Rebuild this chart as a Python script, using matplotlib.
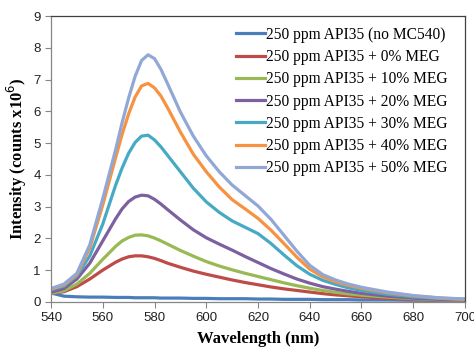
import numpy as np
import matplotlib
matplotlib.use("Agg")
import matplotlib.pyplot as plt

# wavelength grid (nm) and intensities (counts x1e6)
wl = [540, 545, 550, 555, 560, 565,
      567.5, 570, 572.5, 575, 577.5, 580, 582.5, 585,
      590, 595, 600, 605, 610, 615, 620, 625, 630, 635, 640, 645, 650, 655, 660,
      670, 680, 690, 700]

no_mc540 = [0.28, 0.18, 0.16, 0.15, 0.15, 0.14,
            0.14, 0.14, 0.13, 0.13, 0.13, 0.13, 0.12, 0.12,
            0.12, 0.11, 0.11, 0.10, 0.10, 0.10, 0.09, 0.09, 0.08, 0.08, 0.08, 0.07, 0.07, 0.07, 0.06,
            0.06, 0.05, 0.05, 0.05]
meg0 = [0.27, 0.32, 0.48, 0.72, 1.00, 1.25,
        1.35, 1.42, 1.45, 1.45, 1.42, 1.37, 1.30, 1.22,
        1.09, 0.97, 0.87, 0.78, 0.69, 0.61, 0.54, 0.47, 0.41, 0.36, 0.31, 0.26, 0.22, 0.19, 0.16,
        0.11, 0.08, 0.06, 0.04]
meg10 = [0.27, 0.35, 0.56, 0.90, 1.34, 1.75,
         1.92, 2.03, 2.10, 2.11, 2.08, 2.01, 1.92, 1.82,
         1.62, 1.44, 1.27, 1.13, 1.01, 0.90, 0.80, 0.70, 0.60, 0.51, 0.43, 0.36, 0.30, 0.25, 0.21,
         0.15, 0.10, 0.07, 0.05]
meg20 = [0.30, 0.42, 0.72, 1.22, 1.92, 2.62,
         2.93, 3.16, 3.30, 3.36, 3.34, 3.23, 3.08, 2.91,
         2.58, 2.27, 2.02, 1.82, 1.63, 1.43, 1.24, 1.05, 0.88, 0.72, 0.59, 0.48, 0.40, 0.33, 0.27,
         0.18, 0.12, 0.08, 0.06]
meg30 = [0.38, 0.50, 0.82, 1.45, 2.45, 3.68,
         4.22, 4.68, 5.02, 5.22, 5.25, 5.10, 4.88, 4.62,
         4.10, 3.58, 3.15, 2.82, 2.55, 2.35, 2.15, 1.84, 1.48, 1.14, 0.87, 0.68, 0.55, 0.44, 0.36,
         0.24, 0.16, 0.11, 0.08]
meg40 = [0.40, 0.53, 0.86, 1.70, 3.05, 4.55,
         5.28, 5.92, 6.45, 6.80, 6.88, 6.74, 6.48, 6.12,
         5.35, 4.65, 4.10, 3.62, 3.22, 2.93, 2.63, 2.26, 1.84, 1.41, 1.03, 0.79, 0.63, 0.52, 0.43,
         0.29, 0.19, 0.12, 0.08]
meg50 = [0.42, 0.56, 0.90, 1.80, 3.25, 4.80,
         5.65, 6.42, 7.10, 7.60, 7.78, 7.66, 7.32, 6.88,
         5.98, 5.22, 4.60, 4.10, 3.68, 3.35, 3.02, 2.60, 2.10, 1.60, 1.15, 0.86, 0.69, 0.56, 0.46,
         0.31, 0.20, 0.13, 0.09]

series = [no_mc540, meg0, meg10, meg20, meg30, meg40, meg50]
labels = ['250 ppm API35 (no MC540)', '250 ppm API35 + 0% MEG', '250 ppm API35 + 10% MEG',
          '250 ppm API35 + 20% MEG', '250 ppm API35 + 30% MEG', '250 ppm API35 + 40% MEG',
          '250 ppm API35 + 50% MEG']
colors = ['#4A7EBB', '#BE4B48', '#98B954', '#7D60A0', '#46AAC5', '#F69240', '#91A8D6']

fig = plt.figure(figsize=(4.74, 3.49), dpi=100)
ax = fig.add_axes([0.1076, 0.135, 0.8734, 0.819])

for y, lab, c in zip(series, labels, colors):
    ax.plot(wl, y, color=c, lw=2.3, label=lab, solid_joinstyle='round')

ax.set_xlim(540, 700)
ax.set_ylim(0, 9)
ax.set_xticks(np.arange(540, 701, 20))
ax.set_yticks(np.arange(0, 10, 1))

for t in ax.get_xticklabels() + ax.get_yticklabels():
    t.set_fontfamily('Liberation Sans')
    t.set_fontsize(9.5)
ax.tick_params(direction='out', length=4, width=0.8, color='#868686', colors='#222222')

for s in ['left', 'bottom']:
    ax.spines[s].set_color('#868686')
for s in ['top', 'right']:
    ax.spines[s].set_color('#404040')
for s in ax.spines.values():
    s.set_linewidth(0.9)

ax.set_xlabel('Wavelength (nm)', family='Liberation Serif', weight='bold', size=12, labelpad=5)
ax.set_ylabel('Intensity (counts x10$^6$)', family='Liberation Serif', weight='bold', size=12,
              labelpad=3)

leg = ax.legend(loc='upper left', bbox_to_anchor=(0.42, 1.0), frameon=False,
                prop={'family': 'Liberation Serif', 'size': 11.2},
                handlelength=1.9, handletextpad=0.05, labelspacing=0.4, borderaxespad=0.3)

fig.savefig('out.png', dpi=100)
